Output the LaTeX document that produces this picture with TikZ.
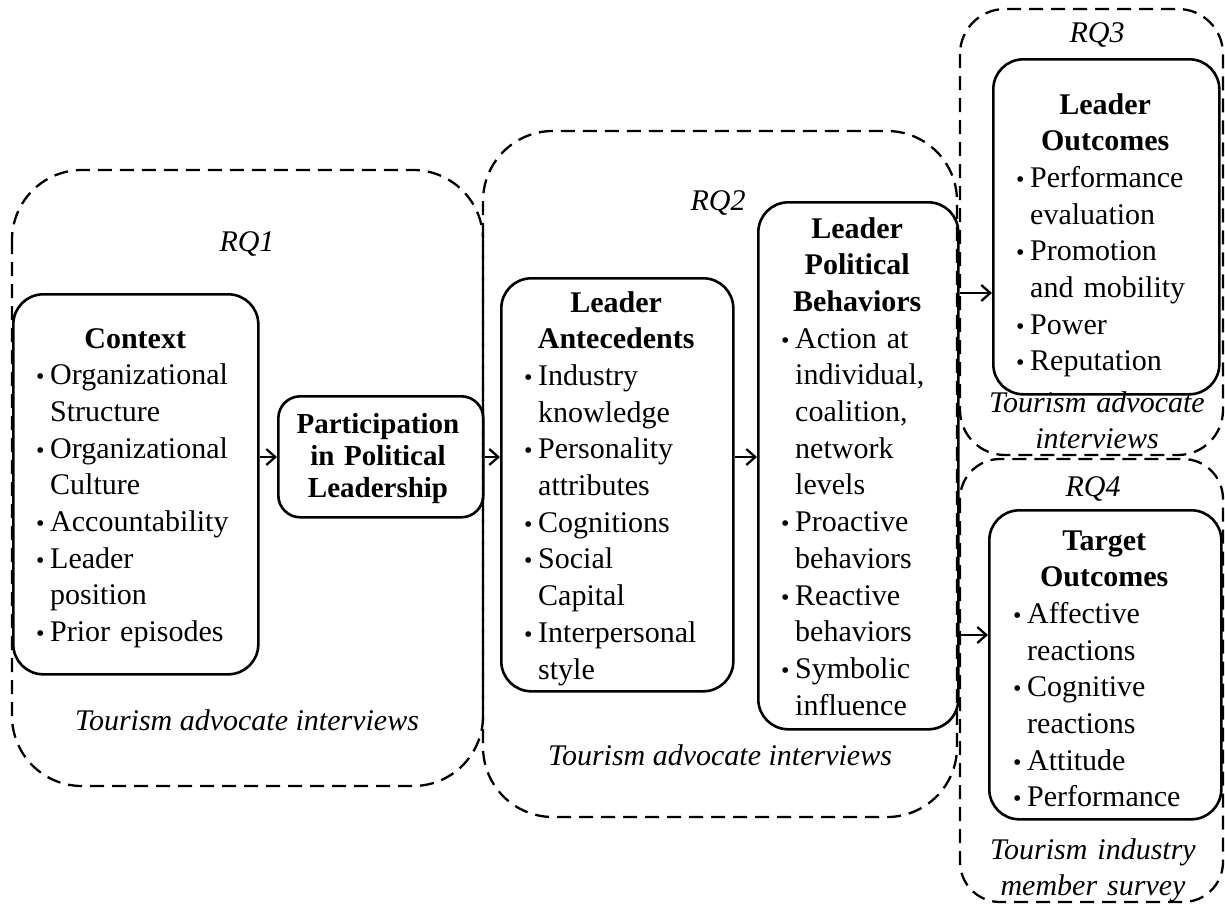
\documentclass[tikz,border=0pt]{standalone}
\usepackage{fontspec}
\setmainfont{Liberation Serif}
\usetikzlibrary{arrows.meta}
% bullet, hanging indent and centred bold heading for the list boxes
\newcommand{\bul}{\makebox[14pt][l]{\fontsize{24}{24}\selectfont\textbullet}}
\newcommand{\ind}{\hspace*{14pt}}
\newcommand{\ttl}[1]{\makebox[\linewidth]{\bfseries #1}}
\begin{document}
\begin{tikzpicture}[x=1pt,y=-1pt,
  region/.style={draw, dash pattern=on 14pt off 8pt, line width=2.3pt, rounded corners=70pt},
  blk/.style={draw, line width=2.6pt, rounded corners=30pt, inner sep=0pt, anchor=north west},
  txt/.style={font=\fontsize{30}{36.7}\selectfont, inner sep=0pt, align=left, anchor=base west},
  lbl/.style={font=\fontsize{30}{36.7}\selectfont\itshape, inner sep=0pt, anchor=base, align=center},
  link/.style={line width=2.3pt, -{Straight Barb[length=9pt,width=16pt]}}]
\useasboundingbox (0,0) rectangle (1225,905);

% dashed research-question regions
\draw[region] (12,170) rectangle (483,786);
\draw[region] (483,131) rectangle (957,817);
\draw[region, rounded corners=45pt] (960,9) rectangle (1223,455);
\draw[region, rounded corners=40pt] (960,459) rectangle (1223,902);

% solid concept boxes
\node[blk, minimum width=245pt, minimum height=380pt] (ctx) at (12,293) {};
\node[blk, minimum width=205pt, minimum height=121pt, rounded corners=22pt] (part) at (277,395) {};
\node[blk, minimum width=232pt, minimum height=413pt] (ant) at (500,277) {};
\node[blk, minimum width=200pt, minimum height=527pt] (beh) at (757,201) {};
\node[blk, minimum width=226pt, minimum height=335pt] (lo) at (992,58) {};
\node[blk, minimum width=232pt, minimum height=309pt] (to) at (988,509) {};

% box contents
\node[txt, text width=198pt] (ctxT) at (36,348) {\ttl{Context}\\ \bul Organizational\\ \ind Structure\\ \bul Organizational\\ \ind Culture\\ \bul Accountability\\ \bul Leader\\ \ind position\\ \bul Prior episodes};
\node[inner sep=0pt, anchor=base, text width=205pt, align=center, font=\fontsize{29}{32}\selectfont\bfseries] (partT) at (378,433) {Participation\\ in Political\\ Leadership};
\node[txt, text width=184pt] (antT) at (524,312) {\ttl{Leader}\\ \ttl{Antecedents}\\ \bul Industry\\ \ind knowledge\\ \bul Personality\\ \ind attributes\\ \bul Cognitions\\ \bul Social\\ \ind Capital\\ \bul Interpersonal\\ \ind style};
\node[txt, text width=152pt] (behT) at (781,238) {\ttl{Leader}\\ \ttl{Political}\\ \ttl{Behaviors}\\ \bul Action at\\ \ind individual,\\ \ind coalition,\\ \ind network\\ \ind levels\\ \bul Proactive\\ \ind behaviors\\ \bul Reactive\\ \ind behaviors\\ \bul Symbolic\\ \ind influence};
\node[txt, text width=178pt] (loT) at (1016,114) {\ttl{Leader}\\ \ttl{Outcomes}\\ \bul Performance\\ \ind evaluation\\ \bul Promotion\\ \ind and mobility\\ \bul Power\\ \bul Reputation};
\node[txt, text width=182pt] (toT) at (1013,550) {\ttl{Target}\\ \ttl{Outcomes}\\ \bul Affective\\ \ind reactions\\ \bul Cognitive\\ \ind reactions\\ \bul Attitude\\ \bul Performance};

% region labels and data sources
\node[lbl] (rq1) at (247,251) {RQ1};
\node[lbl] (rq2) at (718,210) {RQ2};
\node[lbl] (rq3) at (1097,42) {RQ3};
\node[lbl] (rq4) at (1093,496) {RQ4};
\node[lbl] (src1) at (247,730) {Tourism advocate interviews};
\node[lbl] (src2) at (720,765) {Tourism advocate interviews};
\node[lbl, text width=240pt] (src3) at (1097,412) {Tourism advocate\\ interviews};
\node[lbl, text width=240pt] (src4) at (1093,859) {Tourism industry\\ member survey};

% connectors
\coordinate (yA) at (0,457);
\coordinate (yB) at (0,293);
\coordinate (yC) at (0,635);
\draw[link] (ctx.east |- yA) -- (part.west |- yA);
\draw[link] (part.east |- yA) -- (ant.west |- yA);
\draw[link] (ant.east |- yA) -- (beh.west |- yA);
\draw[link] (beh.east |- yB) -- (lo.west |- yB);
\draw[link] (beh.east |- yC) -- (to.west |- yC);
\end{tikzpicture}
\end{document}
